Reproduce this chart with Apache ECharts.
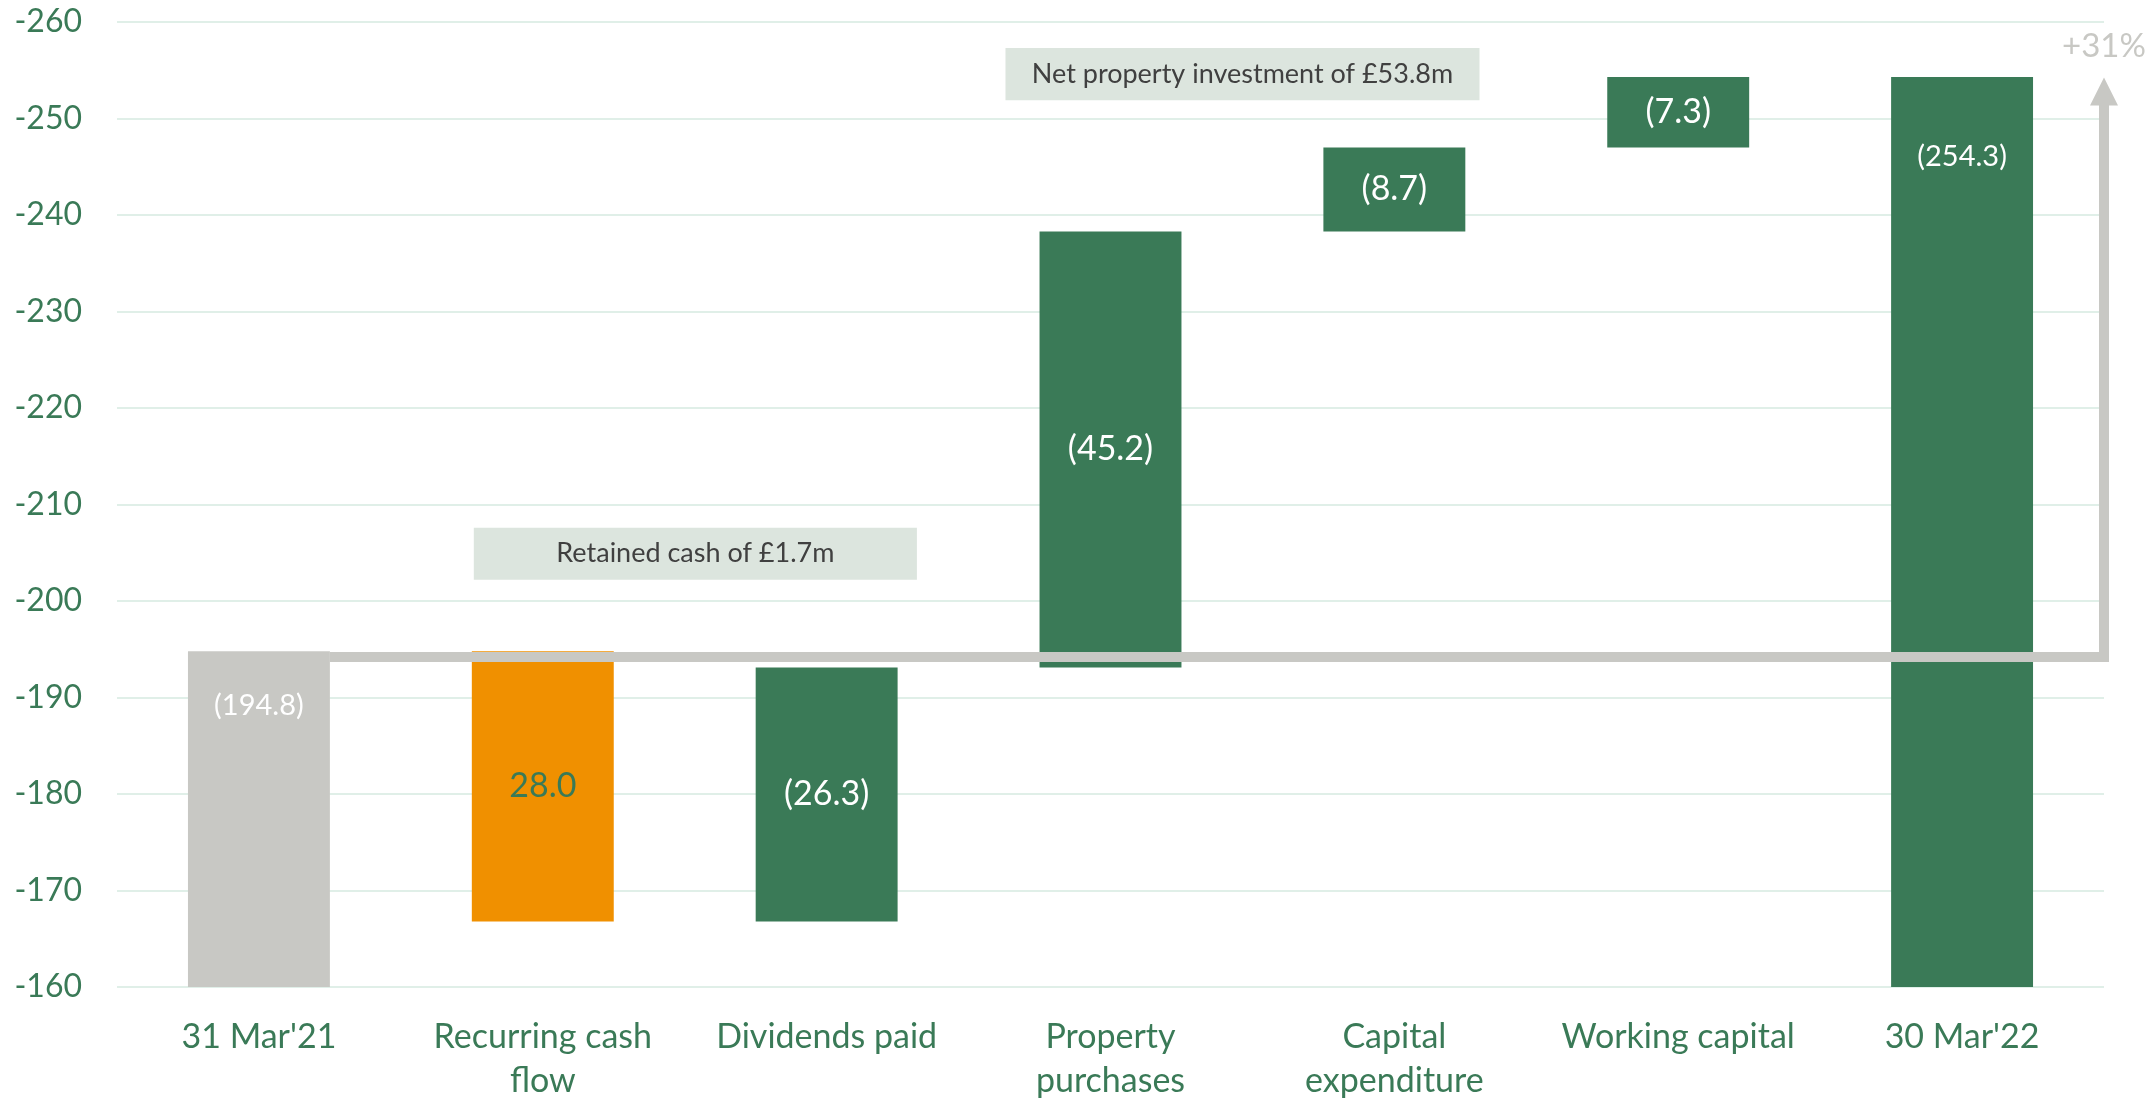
<!DOCTYPE html>
<html lang="en">
<head>
  <meta charset="UTF-8">
  <title>Net debt bridge</title>
  <script src="https://cdn.jsdelivr.net/npm/echarts@6.0.0/dist/echarts.min.js"></script>
  <style>
    html, body, #main {
      margin: 0;
      padding: 0;
      width: 100%;
      height: 100%;
      background: #fff;
    }
  </style>
</head>
<body>
  <div id="main"></div>

  <script>
    // categories and values
    const categories = [
      "31 Mar'21",
      "Recurring cash\nflow",
      "Dividends paid",
      "Property\npurchases",
      "Capital\nexpenditure",
      "Working capital",
      "30 Mar'22"
    ];
    const openingBalance = -194.8;
    const movements = [28.0, -26.3, -45.2, -8.7, -7.3];
    const closingBalance = -254.3;
    const valueLabels = ['(194.8)', '28.0', '(26.3)', '(45.2)', '(8.7)', '(7.3)', '(254.3)'];

    const green = '#3a7a57';
    const grey = '#c8c8c4';
    const orange = '#f09000';
    const font = 'Lato';

    // waterfall: invisible base + visible delta, stacked (all negative)
    const baseData = [0];
    const deltaData = [openingBalance];
    let running = openingBalance;
    movements.forEach(m => {
      const next = running + m;
      const top = Math.max(running, next);
      baseData.push(+top.toFixed(1));
      deltaData.push(+(Math.min(running, next) - top).toFixed(1));
      running = next;
    });
    baseData.push(0);
    deltaData.push(closingBalance);

    const barColors = [grey, orange, green, green, green, green, green];

    const deltaItems = deltaData.map((v, i) => {
      const total = i === 0 || i === categories.length - 1;
      return {
        value: v,
        itemStyle: { color: barColors[i] },
        label: total
          ? { position: 'insideTop', distance: i === 0 ? 40 : 65, fontSize: 29 }
          : { position: 'inside', fontSize: 34, color: i === 1 ? green : '#fff' }
      };
    });

    // bridge line from opening level across to the arrow at the right edge
    const bridgeLevel = -194.2;
    const arrowTop = -252.8;

    const chart = echarts.init(document.getElementById('main'));
    chart.setOption({
      animation: false,
      textStyle: { fontFamily: font },
      grid: { left: 117, right: 52, top: 22, bottom: 117 },
      xAxis: [
        {
          type: 'category',
          data: categories,
          axisLine: { show: false },
          axisTick: { show: false },
          axisLabel: {
            color: green,
            fontSize: 34,
            lineHeight: 44,
            margin: 28,
            interval: 0
          }
        },
        { type: 'value', min: 0, max: 7, show: false }
      ],
      yAxis: {
        type: 'value',
        inverse: true,
        min: -260,
        max: -160,
        interval: 10,
        axisLine: { show: false },
        axisTick: { show: false },
        axisLabel: { color: green, fontSize: 32, margin: 35 },
        splitLine: { lineStyle: { color: '#e0efe8', width: 2 } }
      },
      series: [
        {
          name: 'base',
          type: 'bar',
          stack: 'w',
          barWidth: '50%',
          itemStyle: { color: 'transparent' },
          silent: true,
          data: baseData
        },
        {
          name: 'movement',
          type: 'bar',
          stack: 'w',
          barWidth: '50%',
          label: {
            show: true,
            color: '#fff',
            fontFamily: font,
            formatter: p => valueLabels[p.dataIndex]
          },
          data: deltaItems
        },
        {
          name: 'bridge',
          type: 'line',
          xAxisIndex: 1,
          z: 5,
          symbol: 'none',
          lineStyle: { color: grey, width: 10, join: 'miter', cap: 'butt' },
          data: [
            [0.75, bridgeLevel],
            [7, bridgeLevel],
            { value: [7, arrowTop], symbol: 'triangle', symbolSize: [28, 28] }
          ],
          itemStyle: { color: grey },
          markPoint: {
            symbol: 'rect',
            symbolSize: 1,
            itemStyle: { color: 'transparent' },
            label: { show: true, position: 'inside', color: grey, fontSize: 33, fontFamily: font },
            data: [{ coord: [7, -257.5], value: '+31%' }]
          },
          markArea: {
            silent: true,
            itemStyle: { color: '#dce5de' },
            label: {
              show: true,
              position: 'inside',
              color: '#404040',
              fontSize: 27,
              fontFamily: font
            },
            data: [
              [
                { name: 'Net property investment of £53.8m', coord: [3.13, -257.3] },
                { coord: [4.80, -251.9] }
              ],
              [
                { name: 'Retained cash of £1.7m', coord: [1.257, -207.6] },
                { coord: [2.818, -202.2] }
              ]
            ]
          }
        }
      ]
    });
  </script>
</body>
</html>
